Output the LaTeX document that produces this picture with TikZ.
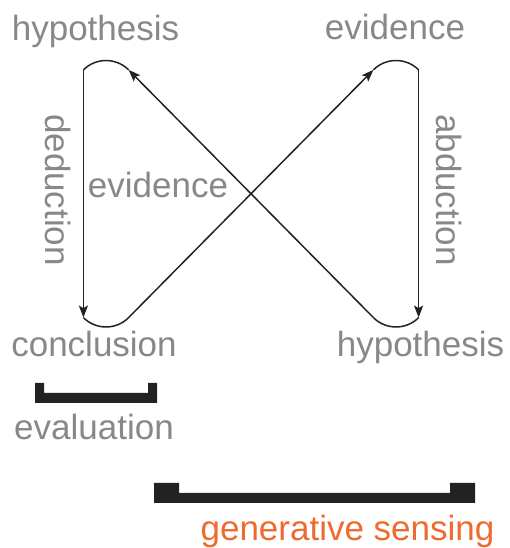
\documentclass[tikz,border=0pt]{standalone}
\usepackage{fontspec}
\setmainfont{Liberation Sans}
\usetikzlibrary{arrows.meta}
\definecolor{txtgray}{HTML}{888888}
\definecolor{linecol}{HTML}{222222}
\definecolor{orangec}{HTML}{EE6A2E}
\tikzset{
  lbl/.style={inner sep=0pt, text=txtgray, font=\fontsize{35}{41}\selectfont},
  flow/.style={draw=linecol, line width=1.5pt},
  arr/.style={flow, -{Stealth[length=12pt,width=9pt,inset=2.5pt]}},
  bracketfill/.style={fill=linecol, draw=none}
}
\begin{document}
\begin{tikzpicture}[x=1pt,y=1pt]
\useasboundingbox (0,0) rectangle (509,548);
% labels
\node[lbl, anchor=base] (hypTL) at (95.5,507) {hypothesis};
\node[lbl, anchor=base] (evTR) at (395,508) {evidence};
\node[lbl, anchor=base] (evMid) at (158,350) {evidence};
\node[lbl, anchor=base] (concl) at (94,191) {conclusion};
\node[lbl, anchor=base] (hypBR) at (420.5,191) {hypothesis};
\node[lbl, anchor=base] (evalt) at (94,108) {evaluation};
\node[lbl, anchor=base, text=orangec] (gens) at (347.5,8) {generative sensing};
\node[lbl, rotate=-90] (ded) at (58.5,358) {deduction};
\node[lbl, rotate=-90] (abd) at (449.5,358) {abduction};
% loop points
\coordinate (TLa) at (83.4,478.1);
\coordinate (TLb) at (128.6,478.1);
\coordinate (TRa) at (373.4,478.1);
\coordinate (TRb) at (418.6,478.1);
\coordinate (BLa) at (83.4,230.4);
\coordinate (BLb) at (128.6,230.4);
\coordinate (BRa) at (373.4,230.4);
\coordinate (BRb) at (418.6,230.4);
% arcs
\draw[flow] (TLa) arc[start angle=135, end angle=45, radius=32pt];
\draw[flow] (TRa) arc[start angle=135, end angle=45, radius=32pt];
\draw[flow] (BLa) arc[start angle=225, end angle=315, radius=32pt];
\draw[flow] (BRa) arc[start angle=225, end angle=315, radius=32pt];
% straight connectors
\draw[arr] (TLa) -- (BLa);
\draw[arr] (TRb) -- (BRb);
\draw[arr] (BLb) -- (TRa);
\draw[arr] (BRa) -- (TLb);
% brackets
\path[bracketfill] (35,165) -- (44,165) -- (44,155) -- (148,155) -- (148,165) -- (157,165) -- (157,145) -- (35,145) -- cycle;
\path[bracketfill] (154,65) -- (179,65) -- (179,55) -- (450,55) -- (450,65) -- (475,65) -- (475,45) -- (154,45) -- cycle;
\end{tikzpicture}
\end{document}
